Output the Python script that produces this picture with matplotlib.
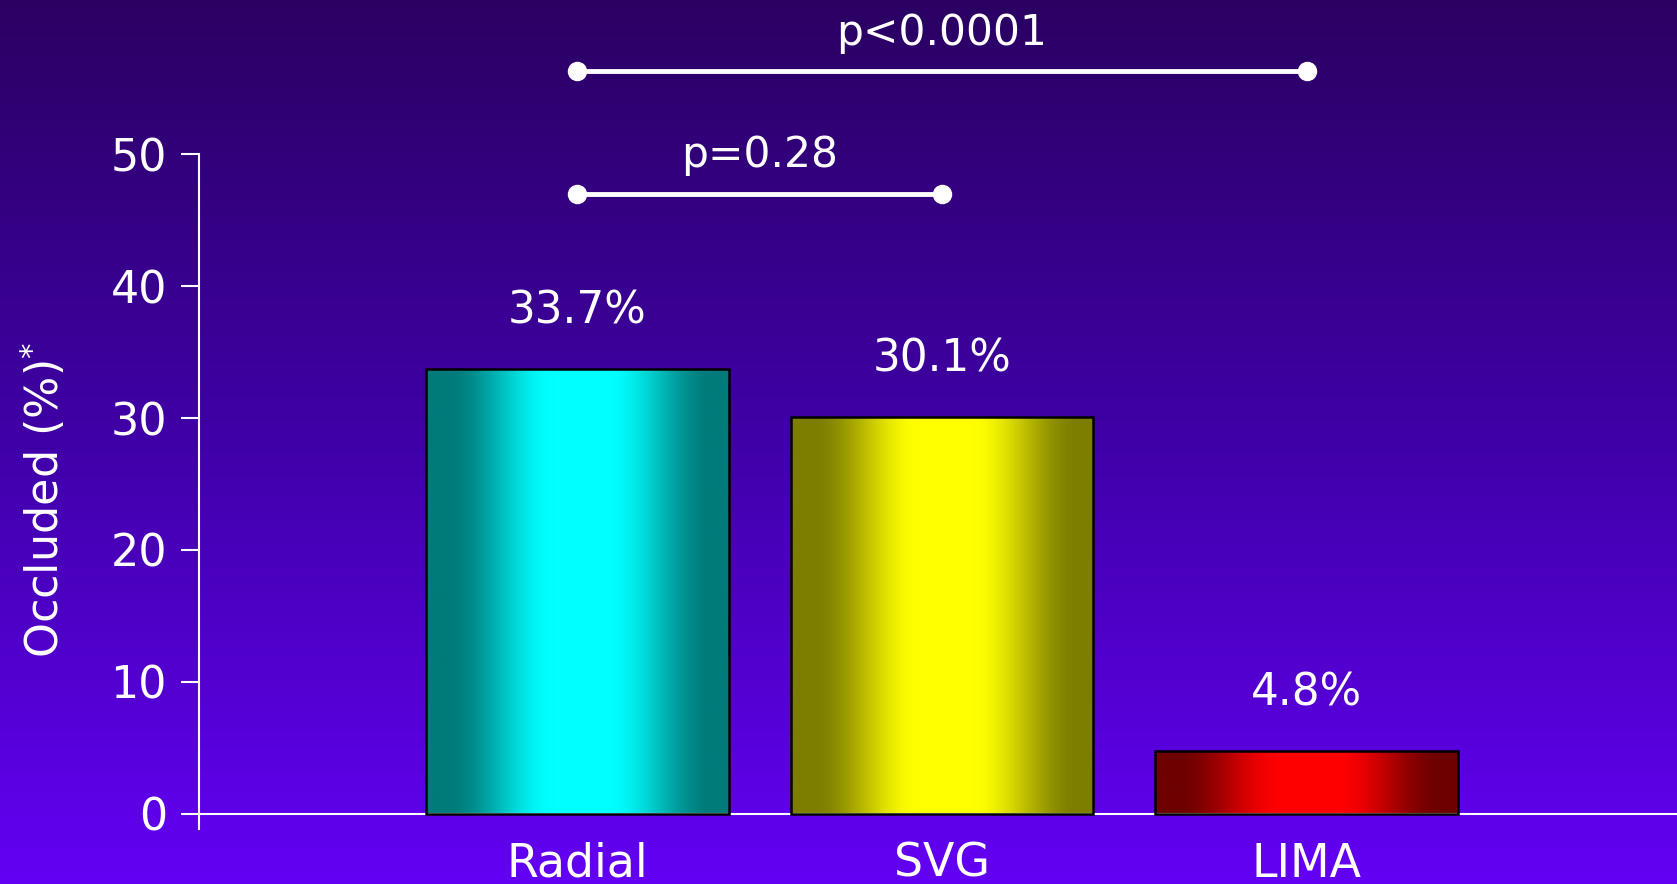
"Oclusión de injertos por tipo de conducto"

import numpy as np
import matplotlib.pyplot as plt
from matplotlib.colors import LinearSegmentedColormap, to_rgb

categorias = ['Radial', 'SVG', 'LIMA']
ocluidos = [33.7, 30.1, 4.8]
etiquetas = ['33.7%', '30.1%', '4.8%']
colores_borde = ['#007a7a', '#7d7d00', '#6e0000']
colores_centro = ['#00ffff', '#ffff00', '#ff0000']
yticks = [0, 10, 20, 30, 40, 50]
comparaciones = [(0, 1, 47.0, 'p=0.28'), (0, 2, 56.3, 'p<0.0001')]

plt.rcParams['font.family'] = ['DejaVu Sans']

fig = plt.figure(figsize=(16.77, 8.84), dpi=100)

# fondo degradado morado
fondo = fig.add_axes([0, 0, 1, 1], zorder=0)
grad = np.linspace(0, 1, 256)[:, None]
cmap_fondo = LinearSegmentedColormap.from_list('fondo', ['#2a0062', '#4000a8', '#6300f4'])
fondo.imshow(grad, aspect='auto', cmap=cmap_fondo, extent=[0, 1, 0, 1], origin='upper')
fondo.axis('off')

ax = fig.add_axes([0.1187, 0.0622, 0.8813, 0.9378], zorder=1)
ax.patch.set_alpha(0)

x = np.arange(len(categorias))
ancho = 0.83
barras = ax.bar(x, ocluidos, width=ancho, facecolor='none', edgecolor='black',
                linewidth=1.8, zorder=3)

# relleno con degradado horizontal suave oscuro-claro-oscuro
t = np.linspace(0, 1, 400)
w = np.clip(1 - np.abs(t - 0.51) / 0.44, 0, 1)
w = np.clip(w / 0.8, 0, 1)
w = w * w * (3 - 2 * w)
for barra, borde, centro in zip(barras, colores_borde, colores_centro):
    b = np.array(to_rgb(borde))
    c = np.array(to_rgb(centro))
    rgb = b[None, :] + w[:, None] * (c - b)[None, :]
    x0 = barra.get_x()
    img = ax.imshow(rgb[None, :, :], aspect='auto', zorder=2,
                    extent=[x0, x0 + barra.get_width(), 0, barra.get_height()])
    img.set_clip_path(barra)

for xi, v, txt in zip(x, ocluidos, etiquetas):
    ax.text(xi, v + 4.4, txt, ha='center', va='center', color='white', fontsize=31.5)

# líneas de significación
for i, j, y, txt in comparaciones:
    ax.plot([x[i], x[j]], [y, y], color='white', lw=3.5, marker='o', ms=13, zorder=4)
    ax.text((x[i] + x[j]) / 2, y + 2.9, txt, ha='center', va='center',
            color='white', fontsize=30.5)

ax.set_xlim(-1.038, 3.016)
ax.set_ylim(-1.14, 61.67)
ax.set_yticks(yticks)
ax.set_xticks(x)
ax.set_xticklabels(categorias)
ax.tick_params(axis='y', colors='white', labelsize=32, length=13, width=1.5, pad=10)
ax.tick_params(axis='x', colors='white', labelsize=33, length=0, pad=20)

ax.spines['top'].set_visible(False)
ax.spines['right'].set_visible(False)
ax.spines['left'].set_color('white')
ax.spines['left'].set_linewidth(1.5)
ax.spines['left'].set_bounds(-1.14, 50)
ax.spines['bottom'].set_color('white')
ax.spines['bottom'].set_linewidth(1.5)
ax.spines['bottom'].set_position(('data', 0))

ax.set_ylabel('Occluded (%)$^{*}$', color='white', fontsize=32)
ax.yaxis.set_label_coords(-0.0886, 0.397)

plt.savefig('out.png', dpi=100)
